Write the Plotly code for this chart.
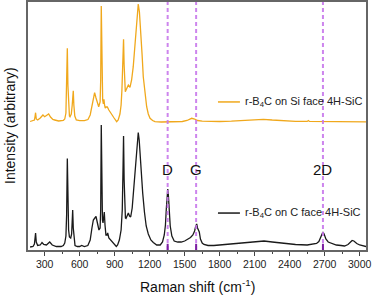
import plotly.graph_objects as go

# Raman shift (cm^-1) and intensities (arbitrary units)
c_face_shift = [175, 200, 212, 218, 222, 228, 240, 262, 277, 292, 315, 343, 365, 400, 440, 460, 472, 482, 488, 494,
                499, 505, 512, 523, 531, 536, 540, 545, 552, 560, 580, 600, 617, 640, 670, 690, 705, 717, 730, 740,
                752, 765, 775, 780, 785, 790, 795, 800, 806, 811, 817, 825, 834, 840, 850, 870, 890, 905, 914, 925,
                940, 955, 965, 972, 976, 981, 987, 992, 997, 1007, 1017, 1027, 1037, 1050, 1060, 1075, 1085, 1095,
                1102, 1110, 1120, 1130, 1140, 1155, 1170, 1188, 1210, 1231, 1260, 1290, 1310, 1325, 1335, 1343, 1350,
                1355, 1360, 1367, 1376, 1390, 1410, 1440, 1470, 1500, 1530, 1550, 1570, 1585, 1595, 1603, 1610, 1618,
                1625, 1635, 1650, 1665, 1700, 1750, 1800, 1900, 2000, 2100, 2180, 2250, 2350, 2450, 2550, 2600, 2630,
                2650, 2665, 2675, 2685, 2695, 2710, 2730, 2760, 2800, 2840, 2870, 2900, 2920, 2935, 2950, 2975, 3000,
                3030, 3054]
c_face_int = [3, 3.5, 6, 12, 17, 8, 4.5, 5, 7.5, 5.5, 5, 8, 5, 3.5, 3.5, 4.5, 7, 14, 35, 91.5,
              50, 20, 13, 12, 16, 28, 40, 22, 8, 4.5, 3.5, 3.5, 4.5, 3.5, 4.5, 10, 22, 30, 32, 33.5,
              27, 20, 22, 40, 125, 60, 30, 27, 32, 38, 25, 15, 15, 17, 12, 9, 6, 4, 3.5, 5,
              10, 20, 40, 85, 114, 70, 38, 32, 31.5, 35, 37, 34, 33, 42, 57, 80, 100, 114,
              117.5, 110, 90, 72, 57, 38, 24, 16, 10, 7.5, 5, 5, 8, 15, 25, 42, 58,
              61, 55, 38, 24, 14, 9, 8, 8, 9, 11, 12.5, 15, 19, 24, 26, 22, 20,
              18, 11, 7, 5.5, 4.5, 4.5, 5, 6, 7, 8, 9, 8, 6.5, 5.5, 5, 5.5, 6.5,
              8.5, 12, 16, 18, 16, 11, 8, 6.5, 5, 4.5, 4, 5.5, 8, 9.5, 9, 6.5, 5,
              4, 3.5]

si_face_shift = [175, 200, 212, 218, 222, 228, 240, 262, 277, 285, 300, 320, 334, 350, 370, 386, 420, 460, 472, 482,
                 488, 494, 499, 505, 512, 517, 528, 536, 540, 545, 550, 558, 571, 600, 640, 671, 690, 705, 716, 728,
                 740, 752, 763, 775, 780, 785, 790, 797, 803, 808, 813, 819, 826, 837, 850, 874, 895, 917, 930, 945,
                 955, 962, 970, 976, 981, 986, 991, 1005, 1017, 1031, 1045, 1059, 1070, 1082, 1092, 1102, 1112, 1123,
                 1135, 1145, 1160, 1174, 1188, 1203, 1225, 1245, 1300, 1400, 1480, 1520, 1545, 1560, 1585, 1610, 1650,
                 1700, 1800, 1900, 2000, 2100, 2174, 2250, 2350, 2450, 2550, 2560, 2570, 2650, 2800, 2950, 3054]
si_face_int = [128.5, 129, 130, 134, 137.3, 131, 130, 132, 134.5, 135, 133.3, 134.5, 136, 133, 130.5, 130, 129, 129.5,
               131, 137, 160, 201.7, 165, 140, 134, 133.3, 136, 145, 155, 159.3, 145, 134, 130, 129.3, 129.3, 130.5,
               135, 145, 153, 157.3, 152, 146, 143.3, 148, 170, 244, 180, 150, 146, 150.7, 145, 142, 143, 143, 140,
               135, 132, 128.3, 130, 136, 145, 160, 190, 210.7, 185, 162, 158.3, 162, 165, 162.7, 170, 183.3, 200,
               223.3, 240, 246, 238, 220, 195, 173.3, 155, 143.3, 136, 131.7, 129.5, 128.3, 128, 128, 128.5, 129.5,
               131.2, 131.7, 131, 129.5, 128.8, 128.5, 128.5, 128.8, 129.5, 130.3, 130.7, 130, 129, 128.7, 128.6,
               129.5, 128.6, 128.5, 128.3, 128.3, 128.2]

band_names = ["D", "G", "2D"]
band_positions = [1354, 1598, 2685]

x_tick_values = [300, 600, 900, 1200, 1500, 1800, 2100, 2400, 2700, 3000]

FONT = "Liberation Sans, Arial, sans-serif"
ORANGE = "#f0a81c"
BLACK = "#1a1a1a"
PURPLE = "rgba(200,120,235,0.9)"

fig = go.Figure()
fig.add_trace(go.Scatter(x=si_face_shift, y=si_face_int, mode="lines",
                         line=dict(color=ORANGE, width=1.3), showlegend=False))
fig.add_trace(go.Scatter(x=c_face_shift, y=c_face_int, mode="lines",
                         line=dict(color=BLACK, width=1.3), showlegend=False))

for name, pos in zip(band_names, band_positions):
    fig.add_shape(type="line", xref="x", yref="paper", x0=pos, x1=pos, y0=0, y1=1,
                  line=dict(color=PURPLE, width=2, dash="4px,3px"), layer="above")
    fig.add_shape(type="line", xref="x", yref="paper", x0=pos, x1=pos, y0=0, y1=0.025,
                  line=dict(color="#7b1fa2", width=2), layer="above")
    fig.add_annotation(x=pos, y=81, xref="x", yref="y", text=name, showarrow=False,
                       font=dict(family=FONT, size=15, color="#111"), xanchor="center", yanchor="middle")

legend_items = [
    ("r-B<sub>4</sub>C on Si face 4H-SiC", ORANGE, 0.597),
    ("r-B<sub>4</sub>C on C face 4H-SiC", BLACK, 0.149),
]
for text, color, ypos in legend_items:
    fig.add_shape(type="line", xref="paper", yref="paper", x0=0.562, x1=0.627, y0=ypos, y1=ypos,
                  line=dict(color=color, width=1.5))
    fig.add_annotation(x=0.636, y=ypos, xref="paper", yref="paper", text=text, showarrow=False,
                       font=dict(family=FONT, size=11, color="#222"), xanchor="left", yanchor="middle")

# axis titles as annotations (positioned in pixels relative to plot area)
fig.add_annotation(x=0.5, y=0, xref="paper", yref="paper", yshift=-36, text="Raman shift (cm<sup>-1</sup>)",
                   showarrow=False, font=dict(family=FONT, size=14, color="#111"),
                   xanchor="center", yanchor="middle")
fig.add_annotation(x=0, y=0.5, xref="paper", yref="paper", xshift=-18, text="Intensity (arbitrary)",
                   textangle=-90, showarrow=False, font=dict(family=FONT, size=14, color="#111"),
                   xanchor="center", yanchor="middle")

fig.update_layout(
    width=373, height=299,
    margin=dict(l=28, r=7, t=2, b=49, autoexpand=False),
    paper_bgcolor="white", plot_bgcolor="white",
    font=dict(family=FONT, color="#222"),
    xaxis=dict(range=[157, 3054], tickvals=x_tick_values, ticks="outside", ticklen=4, tickwidth=1,
               tickcolor="#444", showgrid=False, zeroline=False, showline=True, mirror=True,
               linecolor="#666", linewidth=1.5, tickfont=dict(size=10.5, family=FONT, color="#222"),
               automargin=False,
               minor=dict(dtick=150, tick0=150, ticks="outside", ticklen=2, tickcolor="#444", showgrid=False)),
    yaxis=dict(range=[0, 248], showticklabels=False, ticks="", showgrid=False, zeroline=False,
               showline=True, mirror=True, linecolor="#666", linewidth=1.5, automargin=False),
)

fig.write_html("out.html", config={"displayModeBar": False},
               post_script="document.body.style.margin='0';")
